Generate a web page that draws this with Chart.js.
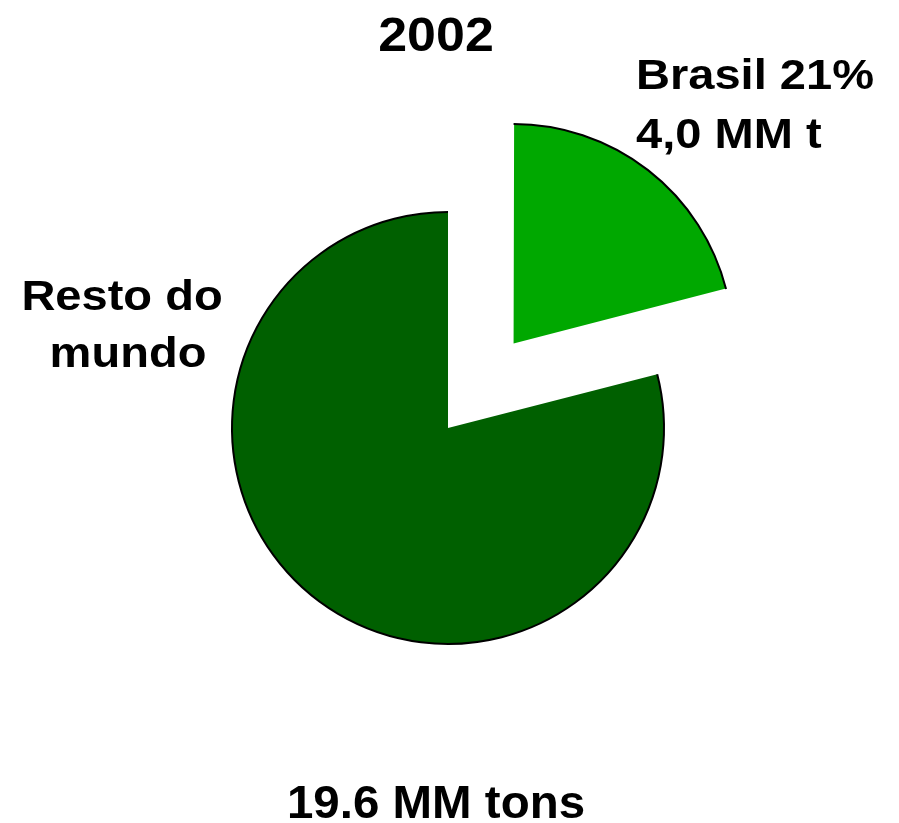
<!DOCTYPE html>
<html>
<head>
<meta charset="utf-8">
<title>2002</title>
<script src="https://cdn.jsdelivr.net/npm/chart.js@4.4.1/dist/chart.umd.min.js"></script>
<style>
  html, body { margin: 0; padding: 0; background: #fff; }
  canvas { display: block; }
</style>
</head>
<body>
<canvas id="pieChart" width="899" height="823"></canvas>
<script>
// data
const categories = ['Brasil', 'Resto do mundo'];
const shares = [21, 79];               // percent
const sliceColors = ['#00a800', '#006000'];
const explode = [428, 0];              // chart.js divides arc offset by 4
const chartTitle = '2002';
const totalLabel = '19.6 MM tons';
const brasilLabel = ['Brasil 21%', '4,0 MM t'];
const restLabel = ['Resto do', 'mundo'];

const FONT = '"Liberation Sans", Arial, sans-serif';

// text in the source is a bit stretched sideways, so draw it with a horizontal scale
function stretchedText(ctx, txt, x, y, size, sx, align) {
    ctx.save();
    ctx.font = 'bold ' + size + 'px ' + FONT;
    ctx.fillStyle = '#000';
    ctx.textBaseline = 'alphabetic';
    ctx.textAlign = align;
    ctx.translate(x, y);
    ctx.scale(sx, 1);
    ctx.fillText(txt, 0, 0);
    ctx.restore();
}

// only the round edge of each slice has a black outline
const outerEdge = {
    id: 'outerEdge',
    afterDatasetsDraw(chart) {
        const ctx = chart.ctx;
        const meta = chart.getDatasetMeta(0);
        meta.data.forEach((arc) => {
            const p = arc.getProps(['x', 'y', 'startAngle', 'endAngle', 'outerRadius'], true);
            const off = (arc.options.offset || 0) / 4;
            const mid = (p.startAngle + p.endAngle) / 2;
            const fix = 1 - Math.sin(Math.min(Math.PI, p.endAngle - p.startAngle));
            ctx.save();
            ctx.beginPath();
            ctx.arc(p.x + Math.cos(mid) * off, p.y + Math.sin(mid) * off,
                p.outerRadius + off * fix, p.startAngle, p.endAngle);
            ctx.lineWidth = 2;
            ctx.strokeStyle = '#000';
            ctx.stroke();
            ctx.restore();
        });
    }
};

const labelsPlugin = {
    id: 'labelsPlugin',
    afterDraw(chart) {
        const ctx = chart.ctx;
        stretchedText(ctx, chartTitle, 436, 51, 49, 1.06, 'center');
        stretchedText(ctx, brasilLabel[0], 636, 89, 42, 1.12, 'left');
        stretchedText(ctx, brasilLabel[1], 636, 148, 42, 1.12, 'left');
        stretchedText(ctx, restLabel[0], 122, 310, 42, 1.12, 'center');
        stretchedText(ctx, restLabel[1], 128, 367, 42, 1.12, 'center');
        stretchedText(ctx, totalLabel, 436, 818, 47, 1.01, 'center');
    }
};

const ctx = document.getElementById('pieChart').getContext('2d');
new Chart(ctx, {
    type: 'pie',
    data: {
        labels: categories,
        datasets: [
            {
                data: shares,
                backgroundColor: sliceColors,
                offset: explode,
                borderWidth: 0,
            },
        ],
    },
    options: {
        responsive: false,
        animation: false,
        rotation: 0,
        radius: 216,
        layout: { padding: { left: 0, right: 3, top: 33, bottom: 0 } },
        plugins: {
            legend: { display: false },
            tooltip: { enabled: false },
        },
    },
    plugins: [outerEdge, labelsPlugin],
});
</script>
</body>
</html>
